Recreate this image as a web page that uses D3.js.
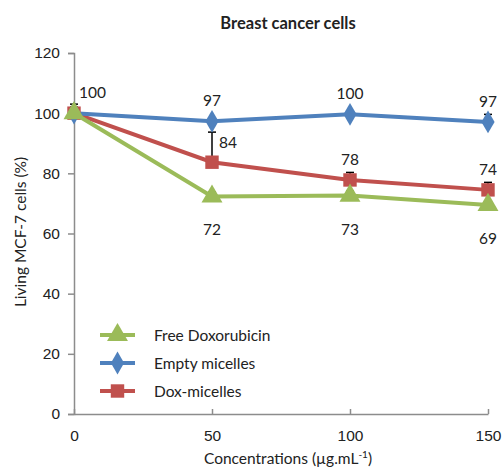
<!DOCTYPE html>
<html>
<head>
<meta charset="utf-8">
<script src="https://cdn.jsdelivr.net/npm/d3@7"></script>
<style>
  body { margin: 0; background: #fff; }
  svg { font-family: Lato, "Open Sans", sans-serif; }
  .axis path, .axis line { stroke: #8c8c8c; }
  .axis text { font-size: 15.5px; fill: #222; }
</style>
</head>
<body>
<svg id="chart"></svg>
<script>
// concentrations (ug/mL)
const concentrations = [0, 50, 100, 150];
const seriesNames = ['Free Doxorubicin', 'Empty micelles', 'Dox-micelles'];
const freeDox = [100, 72.3, 72.6, 69.5];
const emptyMicelles = [100, 97.3, 99.6, 97.1];
const doxMicelles = [100, 83.7, 77.8, 74.5];
const freeDoxErr = [1, 1.5, 1.5, 1];
const emptyErr = [2, 1, 0.5, 2.5];
const doxErr = [3, 10, 2.5, 2.5];
const freeDoxLabels = ['', '72', '73', '69'];
const emptyLabels = ['100', '97', '100', '97'];
const doxLabels = ['', '84', '78', '74'];
const yTicks = [0, 20, 40, 60, 80, 100, 120];
const xTicks = [0, 50, 100, 150];

const config = {
    width: 504, height: 470,
    margin: {top: 53, right: 16, bottom: 56, left: 74}
};

const svg = d3.select('#chart')
    .attr('width', config.width)
    .attr('height', config.height);

const innerW = config.width - config.margin.left - config.margin.right;
const innerH = config.height - config.margin.top - config.margin.bottom;

const chart = svg.append('g')
    .attr('transform', `translate(${config.margin.left}, ${config.margin.top})`);

const xScale = d3.scaleLinear().domain([0, 150]).range([0, innerW]);
const yScale = d3.scaleLinear().domain([0, 120]).range([innerH, 0]);

// axes (x ticks point inward like the excel chart)
chart.append('g')
    .attr('class', 'axis x-axis')
    .attr('transform', `translate(0, ${innerH})`)
    .call(d3.axisBottom(xScale).tickValues(xTicks).tickSizeOuter(0).tickSizeInner(-5).tickPadding(16))
    .call(g => g.selectAll('path, line').attr('stroke-width', 1.5));

chart.append('g')
    .attr('class', 'axis y-axis')
    .call(d3.axisLeft(yScale).tickValues(yTicks).tickSizeOuter(0).tickSize(6).tickPadding(8))
    .call(g => g.selectAll('path, line').attr('stroke-width', 1.5));

// title + axis labels
svg.append('text')
    .attr('x', 288).attr('y', 29)
    .attr('text-anchor', 'middle')
    .attr('font-weight', 'bold')
    .attr('font-size', 16.5)
    .attr('fill', '#222')
    .text('Breast cancer cells');

svg.append('text')
    .attr('transform', 'translate(26, 232) rotate(-90)')
    .attr('text-anchor', 'middle')
    .attr('font-size', 15.5)
    .attr('fill', '#222')
    .text('Living MCF-7 cells (%)');

const xLabel = svg.append('text')
    .attr('x', 288).attr('y', 464)
    .attr('text-anchor', 'middle')
    .attr('font-size', 15.5)
    .attr('fill', '#222');
xLabel.append('tspan').text('Concentrations (µg.mL');
xLabel.append('tspan').attr('font-size', 10).attr('dy', -6).text('-1');
xLabel.append('tspan').attr('dy', 6).text(')');

const series = [
    {name: seriesNames[0], values: freeDox, err: freeDoxErr, labels: freeDoxLabels, color: '#9bbb59', symbol: d3.symbolTriangle, size: 190},
    {name: seriesNames[1], values: emptyMicelles, err: emptyErr, labels: emptyLabels, color: '#4f81bd', symbol: d3.symbolDiamond, size: 150},
    {name: seriesNames[2], values: doxMicelles, err: doxErr, labels: doxLabels, color: '#c0504d', symbol: d3.symbolSquare, size: 180}
];

const line = d3.line()
    .x((d, i) => xScale(concentrations[i]))
    .y(d => yScale(d));

// draw back to front so green sits on top at x = 0
const drawOrder = [series[2], series[1], series[0]];

drawOrder.forEach(s => {
    chart.append('path')
        .datum(s.values)
        .attr('fill', 'none')
        .attr('stroke', s.color)
        .attr('stroke-width', 4)
        .attr('d', line);
});

// error bars, plus direction only
series.forEach(s => {
    const g = chart.append('g');
    s.values.forEach((v, i) => {
        const x = xScale(concentrations[i]);
        const y0 = yScale(v);
        const y1 = yScale(v + s.err[i]);
        g.append('line').attr('x1', x).attr('x2', x).attr('y1', y0).attr('y2', y1)
            .attr('stroke', '#000').attr('stroke-width', 1.5);
        g.append('line').attr('x1', x - 4).attr('x2', x + 4).attr('y1', y1).attr('y2', y1)
            .attr('stroke', '#000').attr('stroke-width', 1.5);
    });
});

// markers
drawOrder.forEach(s => {
    chart.append('g')
        .selectAll('path')
        .data(s.values)
        .enter()
        .append('path')
        .attr('transform', (d, i) => `translate(${xScale(concentrations[i])}, ${yScale(d)})`)
        .attr('d', d3.symbol().type(s.symbol).size(s.size))
        .attr('fill', s.color);
});

// value labels
const labelG = chart.append('g').attr('font-size', 15.5).attr('fill', '#222');
// empty micelles: above
series[1].labels.forEach((t, i) => {
    const x = xScale(concentrations[i]) + (i === 0 ? 5 : 0);
    labelG.append('text').attr('x', x).attr('y', yScale(series[1].values[i]) - 15)
        .attr('text-anchor', i === 0 ? 'start' : 'middle').text(t);
});
// dox micelles: above (right of error bar at 50)
series[2].labels.forEach((t, i) => {
    if (!t) return;
    const x = xScale(concentrations[i]);
    if (i === 1) {
        labelG.append('text').attr('x', x + 7).attr('y', yScale(series[2].values[i] + 4.8)).text(t);
    } else {
        labelG.append('text').attr('x', x).attr('y', yScale(series[2].values[i]) - 15)
            .attr('text-anchor', 'middle').text(t);
    }
});
// free dox: below
series[0].labels.forEach((t, i) => {
    if (!t) return;
    labelG.append('text').attr('x', xScale(concentrations[i]))
        .attr('y', yScale(series[0].values[i]) + 39)
        .attr('text-anchor', 'middle').text(t);
});

// legend
const legend = svg.append('g').attr('transform', 'translate(100, 335)');
series.forEach((s, i) => {
    const row = legend.append('g').attr('transform', `translate(0, ${i * 28})`);
    row.append('line').attr('x1', 0).attr('x2', 35).attr('stroke', s.color).attr('stroke-width', 4);
    row.append('path').attr('transform', 'translate(17.5, 0)')
        .attr('d', d3.symbol().type(s.symbol).size(s.size)).attr('fill', s.color);
    row.append('text').attr('x', 54).attr('y', 5.5).attr('font-size', 15.5).attr('fill', '#222').text(s.name);
});
</script>
</body>
</html>
